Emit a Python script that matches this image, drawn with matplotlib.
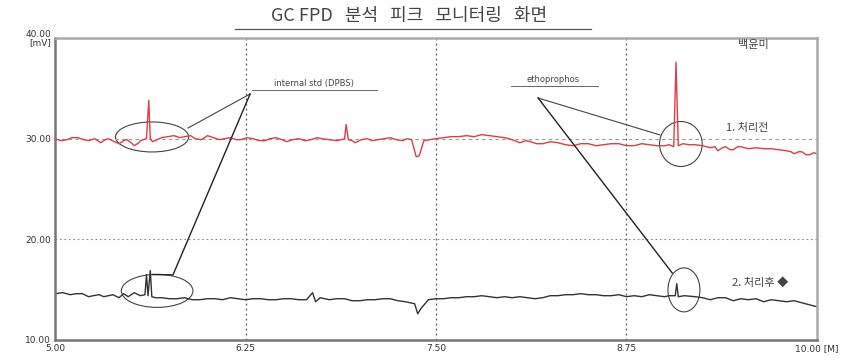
import matplotlib
matplotlib.use("Agg")
import matplotlib.pyplot as plt
from matplotlib.patches import Ellipse

plt.rcParams["font.family"] = ["Noto Sans CJK KR", "DejaVu Sans"]

# retention time [min] and signal [mV]
red_t = [5.00, 5.04, 5.08, 5.11, 5.15, 5.19, 5.22, 5.26, 5.30, 5.33, 5.35, 5.39, 5.42, 5.45,
         5.47, 5.50, 5.52, 5.55, 5.56, 5.58, 5.60, 5.615, 5.625, 5.64, 5.67, 5.70, 5.74, 5.78,
         5.82, 5.85, 5.89, 5.92, 5.96, 6.00, 6.04, 6.08, 6.11, 6.15, 6.19, 6.22, 6.26, 6.30,
         6.34, 6.38, 6.41, 6.45, 6.49, 6.52, 6.56, 6.60, 6.64, 6.68, 6.72, 6.75, 6.80, 6.85,
         6.88, 6.90, 6.91, 6.925, 6.95, 6.97, 7.01, 7.05, 7.08, 7.12, 7.16, 7.20, 7.24, 7.28,
         7.31, 7.34, 7.37, 7.39, 7.42, 7.46, 7.50, 7.55, 7.60, 7.65, 7.70, 7.75, 7.80, 7.85,
         7.90, 7.95, 8.00, 8.05, 8.09, 8.12, 8.16, 8.20, 8.25, 8.30, 8.35, 8.40, 8.45, 8.50,
         8.55, 8.60, 8.65, 8.70, 8.75, 8.80, 8.85, 8.90, 8.95, 9.00, 9.03, 9.06, 9.075, 9.09,
         9.12, 9.16, 9.20, 9.25, 9.30, 9.33, 9.35, 9.38, 9.40, 9.43, 9.45, 9.48, 9.50, 9.55,
         9.60, 9.65, 9.70, 9.75, 9.80, 9.83, 9.85, 9.88, 9.90, 9.93, 9.95, 9.98, 10.00]
red_v = [30.0, 29.8, 29.9, 30.1, 30.1, 29.9, 29.8, 30.0, 29.6, 29.9, 30.0, 29.7, 29.5, 29.8,
         29.9, 29.6, 29.3, 29.6, 29.8, 29.9, 30.0, 33.8, 30.0, 29.7, 29.9, 30.1, 30.2, 30.3,
         30.1, 30.2, 30.3, 30.0, 29.9, 30.3, 30.1, 29.9, 30.0, 30.1, 29.9, 29.9, 30.1, 30.0,
         29.8, 29.8, 30.0, 30.1, 29.9, 29.7, 29.9, 30.0, 29.8, 29.9, 30.1, 30.0, 29.9, 29.8,
         29.9, 30.0, 31.4, 29.9, 29.8, 29.6, 29.9, 30.0, 29.8, 29.9, 30.0, 30.1, 29.9, 29.8,
         30.0, 29.9, 28.2, 28.3, 29.8, 29.9, 30.0, 30.1, 30.2, 30.2, 30.3, 30.2, 30.4, 30.3,
         30.2, 30.1, 29.9, 29.6, 29.8, 29.7, 29.5, 29.5, 29.7, 29.6, 29.4, 29.3, 29.5, 29.5,
         29.3, 29.4, 29.5, 29.5, 29.3, 29.3, 29.5, 29.4, 29.3, 29.3, 29.4, 29.2, 37.6, 29.3,
         29.5, 29.4, 29.4, 29.3, 29.1, 29.2, 28.8, 29.1, 29.2, 28.9, 28.9, 29.2, 29.2, 29.0,
         29.1, 29.0, 29.0, 28.9, 28.8, 28.7, 28.5, 28.7, 28.7, 28.4, 28.4, 28.6, 28.5]

black_t = [5.00, 5.05, 5.10, 5.14, 5.18, 5.22, 5.25, 5.29, 5.32, 5.35, 5.38, 5.42, 5.45, 5.48,
           5.52, 5.56, 5.59, 5.60, 5.61, 5.625, 5.635, 5.66, 5.70, 5.75, 5.80, 5.85, 5.90,
           5.95, 6.00, 6.05, 6.10, 6.15, 6.20, 6.25, 6.30, 6.35, 6.40, 6.45, 6.50, 6.55, 6.60,
           6.65, 6.69, 6.71, 6.74, 6.80, 6.85, 6.90, 6.95, 7.00, 7.05, 7.10, 7.15, 7.20, 7.25,
           7.30, 7.36, 7.38, 7.40, 7.45, 7.50, 7.55, 7.60, 7.65, 7.70, 7.75, 7.80, 7.85, 7.90,
           7.95, 8.00, 8.05, 8.10, 8.15, 8.20, 8.25, 8.30, 8.35, 8.40, 8.45, 8.50, 8.55, 8.60,
           8.65, 8.70, 8.75, 8.80, 8.85, 8.90, 8.95, 9.00, 9.03, 9.07, 9.08, 9.09, 9.13, 9.20,
           9.25, 9.30, 9.35, 9.40, 9.45, 9.50, 9.55, 9.60, 9.65, 9.70, 9.75, 9.80, 9.85, 9.90,
           9.95, 10.00]
black_v = [14.6, 14.7, 14.5, 14.6, 14.6, 14.3, 14.4, 14.5, 14.3, 14.4, 14.5, 14.2, 14.6, 14.3,
           14.7, 14.4, 14.5, 16.5, 14.4, 16.9, 14.3, 14.2, 14.2, 14.1, 14.1, 14.2, 14.0,
           14.0, 14.1, 14.1, 14.0, 14.2, 14.1, 14.0, 14.1, 14.1, 14.0, 14.0, 14.1, 14.1, 14.0,
           14.0, 14.7, 13.8, 14.2, 14.0, 14.1, 14.1, 13.9, 13.9, 14.0, 14.0, 14.1, 14.1, 13.9,
           13.8, 13.6, 12.6, 13.1, 14.0, 14.1, 14.1, 14.2, 14.2, 14.3, 14.3, 14.4, 14.3, 14.2,
           14.3, 14.2, 14.3, 14.2, 14.1, 14.2, 14.4, 14.4, 14.5, 14.5, 14.6, 14.5, 14.5, 14.4,
           14.4, 14.5, 14.3, 14.4, 14.3, 14.5, 14.4, 14.3, 14.4, 14.4, 15.6, 14.3, 14.4, 14.3,
           14.2, 14.0, 14.2, 14.2, 13.9, 14.1, 14.0, 14.1, 13.8, 14.0, 13.9, 13.8, 13.9, 13.7,
           13.5, 13.3]

x_ticks = [5.00, 6.25, 7.50, 8.75, 10.00]
x_labels = ["5.00", "6.25", "7.50", "8.75", "10.00 [M]"]
y_ticks = [10.00, 20.00, 30.00, 40.00]
y_labels = ["10.00", "20.00", "30.00", "40.00\n[mV]"]

fig = plt.figure(figsize=(8.56, 3.62), dpi=100)
ax = fig.add_axes([0.0643, 0.0608, 0.8901, 0.8342])
ax.set_xlim(5.0, 10.0)
ax.set_ylim(10.0, 40.0)

for x in x_ticks[1:-1]:
    ax.axvline(x, color="#555555", lw=0.9, ls=(0, (1.5, 2.5)))
ax.axhline(20.0, color="#888888", lw=0.8, ls=(0, (1.5, 2.5)))
ax.axhline(30.0, color="#999999", lw=0.8, ls=(0, (3, 3)))

ax.plot(red_t, red_v, color="#e23a47", lw=1.0)
ax.plot(black_t, black_v, color="#333333", lw=1.0)

ax.set_xticks(x_ticks)
ax.set_xticklabels(x_labels, fontsize=6.5, family="DejaVu Sans", color="#333333")
ax.set_yticks(y_ticks)
ax.set_yticklabels(y_labels, fontsize=6.5, family="DejaVu Sans", color="#333333",
                   linespacing=0.9)
ax.tick_params(length=0, pad=3)
for side in ["left", "bottom"]:
    ax.spines[side].set_color("#777777")
    ax.spines[side].set_linewidth(1.8)
for side in ["top", "right"]:
    ax.spines[side].set_color("#aaaaaa")
    ax.spines[side].set_linewidth(1.8)

# circles round the peaks
for cx, cy, w, h in [(5.637, 30.17, 0.48, 2.98), (5.67, 14.88, 0.47, 3.28),
                     (9.107, 29.47, 0.28, 4.47), (9.127, 14.98, 0.21, 4.37)]:
    ax.add_patch(Ellipse((cx, cy), w, h, fill=False, ec="#444444", lw=0.8))

# leader lines
ax.plot([6.28, 5.873], [34.44, 31.06], color="#444444", lw=0.8)
ax.plot([6.28, 5.774, 5.64], [34.44, 16.47, 16.5], color="#222222", lw=1.0)
ax.plot([8.17, 8.97], [34.04, 30.37], color="#444444", lw=0.8)
ax.plot([8.17, 9.05], [34.04, 16.66], color="#222222", lw=1.0)

ax.text(6.70, 35.0, "internal std (DPBS)", fontsize=6, ha="center", va="bottom",
        family="DejaVu Sans", color="#444444")
ax.plot([6.29, 7.11], [34.85, 34.85], color="#666666", lw=0.7)
ax.text(8.27, 35.4, "ethoprophos", fontsize=6, ha="center", va="bottom",
        family="DejaVu Sans", color="#444444")
ax.plot([7.99, 8.56], [35.25, 35.25], color="#666666", lw=0.7)

ax.text(9.40, 31.06, "1. 처리전", fontsize=8, ha="left", va="center", color="#444444")
ax.text(9.44, 15.77, "2. 처리후 ◆", fontsize=8, ha="left", va="center", color="#444444")
ax.text(9.48, 39.3, "백윤미", fontsize=8, ha="left", va="center", color="#444444")

fig.text(0.478, 0.955, "GC FPD   분석   피크   모니터링   화면", fontsize=13, ha="center",
         va="center", color="#444444")
fig.add_artist(plt.Line2D([0.275, 0.69], [0.92, 0.92], color="#555555", lw=0.9))

fig.savefig("out.png", dpi=100)
